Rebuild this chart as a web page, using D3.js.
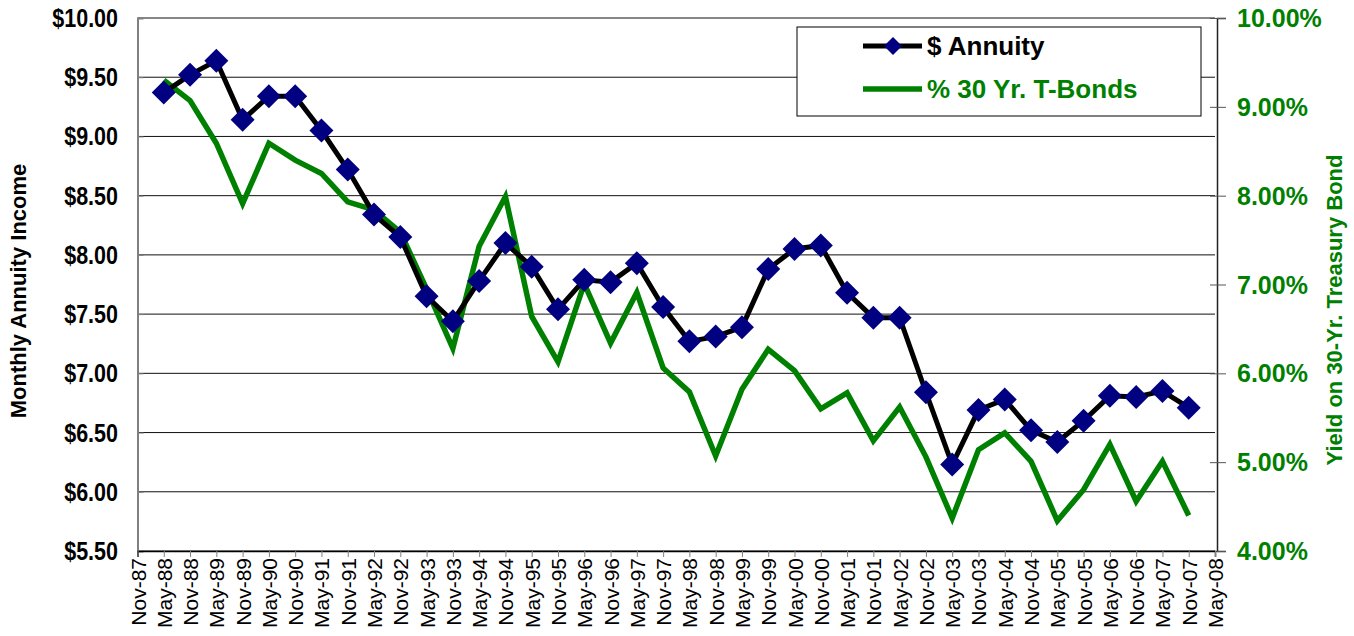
<!DOCTYPE html>
<html>
<head>
<meta charset="utf-8">
<script src="https://cdnjs.cloudflare.com/ajax/libs/d3/7.8.5/d3.min.js"></script>
<style>
  body { margin: 0; background: #fff; }
  svg { display: block; font-family: "Liberation Sans", Arial, sans-serif; }
</style>
</head>
<body>
<script>
var width = 1354;
var height = 636;

// tick labels along the bottom, every six months
var dateLabels = ["Nov-87","May-88","Nov-88","May-89","Nov-89","May-90","Nov-90","May-91","Nov-91",
    "May-92","Nov-92","May-93","Nov-93","May-94","Nov-94","May-95","Nov-95","May-96","Nov-96",
    "May-97","Nov-97","May-98","Nov-98","May-99","Nov-99","May-00","Nov-00","May-01","Nov-01",
    "May-02","Nov-02","May-03","Nov-03","May-04","Nov-04","May-05","Nov-05","May-06","Nov-06",
    "May-07","Nov-07","May-08"];

// dates that carry data
var dataDates = dateLabels.slice(1, 41);

var annuity = [9.37, 9.52, 9.64, 9.14, 9.34, 9.34, 9.05, 8.72, 8.34, 8.15,
    7.65, 7.44, 7.78, 8.10, 7.90, 7.54, 7.79, 7.77, 7.93, 7.56,
    7.27, 7.31, 7.39, 7.88, 8.05, 8.08, 7.68, 7.47, 7.47, 6.84,
    6.23, 6.69, 6.78, 6.52, 6.42, 6.60, 6.81, 6.80, 6.85, 6.71];

var tbonds = [9.30, 9.07, 8.59, 7.91, 8.59, 8.40, 8.25, 7.93, 7.84, 7.59,
    6.95, 6.28, 7.43, 7.99, 6.64, 6.13, 7.01, 6.34, 6.91, 6.06,
    5.79, 5.07, 5.82, 6.27, 6.03, 5.60, 5.78, 5.24, 5.62, 5.06,
    4.37, 5.14, 5.33, 5.01, 4.34, 4.69, 5.20, 4.56, 5.01, 4.40];

var leftTicks = [5.5, 6, 6.5, 7, 7.5, 8, 8.5, 9, 9.5, 10];
var rightTicks = [4, 5, 6, 7, 8, 9, 10];

var plotLeft = 137.5, plotRight = 1215, plotTop = 18, plotBottom = 551;
var green = "#008000", navy = "#000080";

var svg = d3.select("body").append("svg").attr("width", width).attr("height", height);

var x = d3.scalePoint().domain(dateLabels).range([plotLeft, plotRight]);
var yL = d3.scaleLinear().domain([5.5, 10]).range([plotBottom, plotTop]);
var yR = d3.scaleLinear().domain([4, 10]).range([plotBottom, plotTop]);

// gridlines
svg.append("g").selectAll("line")
    .data(leftTicks)
    .enter()
    .append("line")
    .attr("x1", plotLeft).attr("x2", plotRight)
    .attr("y1", function (d) { return yL(d); })
    .attr("y2", function (d) { return yL(d); })
    .style("stroke", "#111").style("stroke-width", 1);

// left axis
var leftAxis = svg.append("g").attr("transform", "translate(" + plotLeft + ",0)")
    .call(d3.axisRight(yL).tickValues(leftTicks).tickSize(6).tickFormat(""));
leftAxis.select(".domain").style("stroke", "#808080").style("stroke-width", 2);
leftAxis.selectAll(".tick line").style("stroke", "#808080");

svg.append("g").selectAll("text")
    .data(leftTicks)
    .enter()
    .append("text")
    .attr("transform", function (d) { return "translate(118," + (yL(d) + 9) + ") scale(0.86,1)"; })
    .attr("text-anchor", "end")
    .style("font-size", "25px").style("font-weight", "bold")
    .text(function (d) { return "$" + d.toFixed(2); });

// right axis
var rightAxis = svg.append("g").attr("transform", "translate(" + (plotRight + 2) + ",0)")
    .call(d3.axisRight(yR).tickValues(rightTicks).tickSize(9).tickFormat(""));
rightAxis.select(".domain").style("stroke", "#222").style("stroke-width", 1.5);
rightAxis.selectAll(".tick line").attr("x1", -7).style("stroke", "#555");

svg.append("g").selectAll("text")
    .data(rightTicks)
    .enter()
    .append("text")
    .attr("x", 1237)
    .attr("y", function (d) { return yR(d) + 9; })
    .style("font-size", "25px").style("font-weight", "bold").style("fill", green)
    .text(function (d) { return d.toFixed(2) + "%"; });

// bottom axis
var xAxis = svg.append("g").attr("transform", "translate(0," + plotBottom + ")")
    .call(d3.axisBottom(x).tickSize(6).tickFormat(""));
xAxis.select(".domain").style("stroke", "#000").style("stroke-width", 1.5);
xAxis.selectAll(".tick line").style("stroke", "#808080");

svg.append("g").selectAll("text")
    .data(dateLabels)
    .enter()
    .append("text")
    .attr("transform", function (d) { return "translate(" + (x(d) + 8) + "," + (plotBottom + 7) + ") rotate(-90)"; })
    .attr("text-anchor", "end")
    .style("font-size", "21px")
    .text(function (d) { return d; });

// axis titles
svg.append("text")
    .attr("transform", "translate(26,291) rotate(-90)")
    .attr("text-anchor", "middle")
    .style("font-size", "22px").style("font-weight", "bold")
    .text("Monthly Annuity Income");

svg.append("text")
    .attr("transform", "translate(1342,310) rotate(-90)")
    .attr("text-anchor", "middle")
    .style("font-size", "22px").style("font-weight", "bold").style("fill", green)
    .text("Yield on 30-Yr. Treasury Bond");

// T-bond yield line
svg.append("path")
    .datum(tbonds)
    .attr("d", d3.line()
        .x(function (d, i) { return x(dataDates[i]); })
        .y(function (d) { return yR(d); }))
    .style("fill", "none").style("stroke", green).style("stroke-width", 5.5)
    .style("stroke-linejoin", "miter");

// annuity line and diamonds
svg.append("path")
    .datum(annuity)
    .attr("d", d3.line()
        .x(function (d, i) { return x(dataDates[i]); })
        .y(function (d) { return yL(d); }))
    .style("fill", "none").style("stroke", "#000").style("stroke-width", 5);

svg.append("g").selectAll("path")
    .data(annuity)
    .enter()
    .append("path")
    .attr("transform", function (d, i) { return "translate(" + x(dataDates[i]) + "," + yL(d) + ")"; })
    .attr("d", "M0,-12L12,0L0,12L-12,0Z")
    .style("fill", navy);

// legend
var legend = svg.append("g");
legend.append("rect")
    .attr("x", 797).attr("y", 27).attr("width", 404).attr("height", 89)
    .style("fill", "#fff").style("stroke", "#000").style("stroke-width", 1);
legend.append("line")
    .attr("x1", 863).attr("x2", 922).attr("y1", 46).attr("y2", 46)
    .style("stroke", "#000").style("stroke-width", 5);
legend.append("path")
    .attr("transform", "translate(893,46)")
    .attr("d", "M0,-9L9,0L0,9L-9,0Z")
    .style("fill", navy);
legend.append("text")
    .attr("x", 927).attr("y", 55)
    .style("font-size", "26px").style("font-weight", "bold")
    .text("$ Annuity");
legend.append("line")
    .attr("x1", 863).attr("x2", 922).attr("y1", 89).attr("y2", 89)
    .style("stroke", green).style("stroke-width", 5.5);
legend.append("text")
    .attr("x", 927).attr("y", 98)
    .style("font-size", "26px").style("font-weight", "bold").style("fill", green)
    .text("% 30 Yr. T-Bonds");
</script>
</body>
</html>
